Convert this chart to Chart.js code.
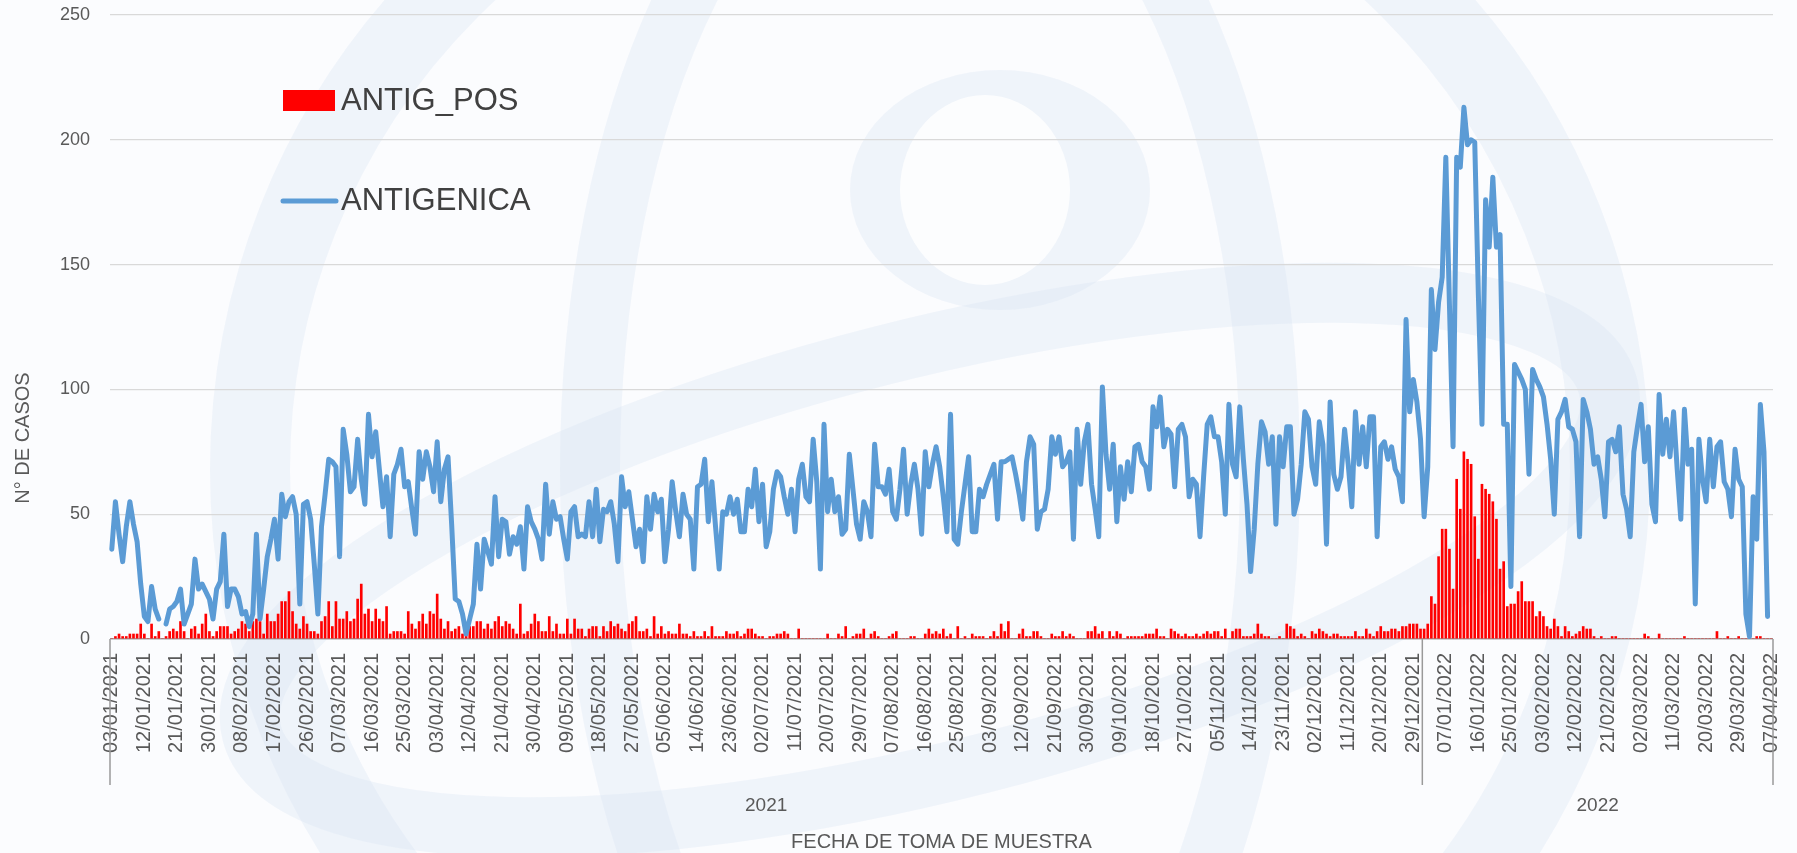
<!DOCTYPE html>
<html>
<head>
<meta charset="utf-8">
<script src="https://cdn.jsdelivr.net/npm/chart.js@4.4.1/dist/chart.umd.min.js"></script>
<style>
  html,body{margin:0;padding:0;background:#fff;}
  #wrap{width:1797px;height:853px;}
</style>
</head>
<body>
<div id="wrap"><canvas id="grafico" width="1797" height="853"></canvas></div>
<script>
// casos diarios, primer dia 03/01/2021, una etiqueta cada 9 dias
var fechaInicio = Date.UTC(2021, 0, 3)
var cadaTick = 9
var anios = ["2021", "2022"]
var yTicks = [0, 50, 100, 150, 200, 250]

// 03/01/2021 - 31/12/2021
var antigenica2021 = [
  36,55,42,31,45,55,46,39,22,9,
  7,21,12,8,null,6,12,13,15,20,
  6,10,14,32,20,22,19,16,8,20,
  23,42,13,20,20,17,10,11,5,10,
  42,8,20,33,40,48,32,58,49,55,
  57,50,14,54,55,48,30,10,45,58,
  72,71,69,33,84,74,59,61,80,64,
  54,90,73,83,68,53,65,41,66,70,
  76,61,63,52,42,75,64,75,69,59,
  79,55,68,73,46,16,15,10,2,8,
  14,38,20,40,35,30,57,33,48,47,
  34,41,38,45,28,53,47,44,40,32,
  62,42,55,48,49,40,32,51,53,41,
  42,41,55,41,60,39,52,51,55,46,
  31,65,53,59,48,37,44,31,57,44,
  58,51,56,31,44,63,51,41,58,50,
  48,28,61,62,72,47,63,45,28,51,
  50,57,50,56,43,43,60,53,68,47,
  62,37,43,60,67,65,57,50,60,43,
  64,70,57,55,80,63,28,86,51,64,
  51,57,42,44,74,60,46,40,55,51,
  41,78,61,61,58,68,51,48,60,76,
  50,62,70,60,42,75,61,70,77,69,
  57,43,90,40,38,51,62,73,43,43,
  60,57,62,66,70,48,71,71,72,73,
  66,58,48,71,81,78,44,51,52,60,
  81,74,81,69,71,75,40,84,62,79,
  86,62,52,41,101,74,60,78,47,69,
  56,71,59,77,78,71,69,60,93,85,
  97,77,84,82,61,84,86,81,57,64,
  62,41,65,86,89,81,81,71,50,94,
  70,65,93,72,54,27,44,70,87,83,
  70,81,46,81,69,85,85,50,56,70,
  91,88,69,62,87,78,38,95,66,60,
  65,84,70,53,91,70,85,69,89,89,
  41,77,79,72,77,68,65,55,128,91,
  104,95,80
]
// 01/01/2022 - 07/04/2022
var antigenica2022 = [
  49,69,140,116,135,145,193,
  134,77,193,189,213,198,200,199,138,86,
  176,157,185,157,162,86,86,21,110,107,
  104,100,66,108,104,101,97,86,72,50,
  88,91,96,85,84,79,41,96,91,84,
  70,73,64,49,79,80,75,85,58,52,
  41,75,85,94,71,85,54,47,98,74,
  88,73,91,68,48,92,70,76,14,80,
  64,55,80,61,77,79,63,60,49,76,
  64,61,10,1,57,40,94,75,9,null
]

var antigPos2021 = [
  0,1,2,1,1,2,2,2,6,2, 0,6,1,3,0,1,3,4,3,7, 3,0,4,5,2,6,10,3,1,3, 5,5,5,2,3,4,7,6,3,7, 8,
  7,2,10,7,7,10,15,15,19,11, 6,4,9,6,3,3,2,7,9,15, 5,15,8,8,11,7,8,16,22,10, 12,7,12,8,7,13,2,3,3,3, 2,11,6,4,7,
  10,6,11,10,18,8,4,7,3,4, 5,2,4,5,5,7,7,4,6,4, 7,9,5,7,6,4,2,14,2,3, 6,10,7,3,3,9,3,6,2,2, 8,2,
  8,4,4,1,4,5,5,1,5,3, 7,5,6,4,3,6,7,9,3,3, 4,1,9,2,5,2,3,2,2,6, 2,2,1,3,1,1,3,1,5,1, 1,1,3,2,
  2,3,1,2,4,4,2,1,1,0, 1,1,2,2,3,2,0,0,4,0, 0,0,0,0,0,0,2,0,0,2, 1,5,0,1,2,2,4,0,2,3, 1,0,0,1,
  2,3,0,0,0,1,1,0,0,2, 4,2,3,2,4,1,2,0,5,0, 1,0,2,1,1,1,0,1,3,1, 6,3,7,0,0,2,4,1,1,3, 3,1,0,0,
  2,1,1,3,1,2,1,0,0,0, 3,3,5,2,3,0,3,1,3,2, 0,1,1,1,1,1,2,2,2,4, 1,1,0,4,3,2,1,2,1,1, 2,1,2,3,
  2,3,3,1,4,0,3,4,4,1, 1,1,2,6,2,1,1,0,0,1, 0,6,5,4,1,2,1,0,3,2, 4,3,2,1,2,2,1,
  1,1,1,3,1,1,4,2,1,3, 5,3,3,4,4,3,5,5,6,6, 6,
  4
]
var antigPos2022 = [
  4,6,17,14,33,44,44,36,20,64, 52,75,72,70,49,32,62,60,58,55, 48,28,31,13,14,14,19,23,15,15,
  15,9,11,9,5,4,8,5,1,5, 3,1,2,3,5,4,4,1,0,1, 0,0,1,1,0,0,0,0,0,0,
  0,2,1,0,0,2,0,0,0,0, 0,0,1,0,0,0,0,0,0,0, 0,3,0,0,1,0,0,1,0,0,
  0,0,1,1,0,0,0
]

var colorLinea = '#5B9BD5'
var colorBarra = '#FF0000'
var colorTexto = '#595959'
var colorLeyenda = '#404040'
var fuente = "'Liberation Sans', Arial, sans-serif"

function crearFechas(n){
  var fechas = []
  for (var i = 0; i < n; i++) {
    var d = new Date(fechaInicio + i * 86400000)
    var dd = String(d.getUTCDate()).padStart(2, '0')
    var mm = String(d.getUTCMonth() + 1).padStart(2, '0')
    fechas.push(dd + '/' + mm + '/' + d.getUTCFullYear())
  }
  return fechas
}

var antigenica = antigenica2021.concat(antigenica2022)
var antigPos = antigPos2021.concat(antigPos2022)
var fechas = crearFechas(antigenica.length)
var grupos = [
  {nombre: anios[0], n: antigenica2021.length},
  {nombre: anios[1], n: antigenica2022.length}
]

// logo de fondo muy tenue
const fondoLogo = {
  id: 'fondoLogo',
  beforeDraw: (chart) => {
    const {ctx, width, height} = chart
    ctx.save()
    ctx.fillStyle = '#FBFCFE'
    ctx.fillRect(0, 0, width, height)
    var tono = 'rgba(215,227,243,0.32)'
    ctx.strokeStyle = tono
    ctx.lineWidth = 80
    ctx.beginPath(); ctx.arc(930, 470, 680, 0, Math.PI * 2); ctx.stroke()
    ctx.lineWidth = 60
    ctx.beginPath(); ctx.ellipse(930, 470, 340, 680, 0, 0, Math.PI * 2); ctx.stroke()
    ctx.beginPath(); ctx.ellipse(930, 560, 700, 210, -0.25, 0, Math.PI * 2); ctx.stroke()
    ctx.fillStyle = tono
    ctx.beginPath(); ctx.ellipse(1000, 190, 150, 120, 0, 0, Math.PI * 2); ctx.fill()
    ctx.fillStyle = 'rgba(255,255,255,0.8)'
    ctx.beginPath(); ctx.ellipse(985, 190, 85, 95, 0, 0, Math.PI * 2); ctx.fill()
    ctx.restore()
  }
}

// niveles de año, titulos de ejes y leyenda
const ejeAnios = {
  id: 'ejeAnios',
  afterDraw: (chart) => {
    const {ctx, chartArea} = chart
    const x = chart.scales.x
    ctx.save()
    // lineas separadoras
    var bordes = [chartArea.left]
    var acum = 0
    for (var g = 0; g < grupos.length; g++) {
      acum += grupos[g].n
      if (acum < antigenica.length) {
        bordes.push((x.getPixelForValue(acum - 1) + x.getPixelForValue(acum)) / 2)
      } else {
        bordes.push(chartArea.right)
      }
    }
    ctx.strokeStyle = '#9A9A9A'
    ctx.lineWidth = 1.5
    bordes.forEach(b => {
      ctx.beginPath()
      ctx.moveTo(b, chartArea.bottom)
      ctx.lineTo(b, chartArea.bottom + 146)
      ctx.stroke()
    })
    ctx.fillStyle = colorTexto
    ctx.font = '19px ' + fuente
    ctx.textAlign = 'center'
    ctx.textBaseline = 'middle'
    for (var g = 0; g < grupos.length; g++) {
      ctx.fillText(grupos[g].nombre, (bordes[g] + bordes[g + 1]) / 2, chartArea.bottom + 167)
    }
    // titulos
    ctx.font = '20px ' + fuente
    ctx.fillText('FECHA DE TOMA DE MUESTRA', (chartArea.left + chartArea.right) / 2, 842)
    ctx.save()
    ctx.translate(23, 438)
    ctx.rotate(-Math.PI / 2)
    ctx.fillText('N° DE CASOS', 0, 0)
    ctx.restore()
    // leyenda
    var lx = chartArea.left + 173
    var ly = chartArea.top + 86
    ctx.fillStyle = colorBarra
    ctx.fillRect(lx, ly - 11, 52, 21)
    ctx.strokeStyle = colorLinea
    ctx.lineWidth = 5
    ctx.lineCap = 'round'
    ctx.beginPath()
    ctx.moveTo(lx, ly + 100)
    ctx.lineTo(lx + 53, ly + 100)
    ctx.stroke()
    ctx.fillStyle = colorLeyenda
    ctx.font = '31px ' + fuente
    ctx.textAlign = 'left'
    ctx.fillText('ANTIG_POS', lx + 58, ly)
    ctx.fillText('ANTIGENICA', lx + 58, ly + 100)
    ctx.restore()
  }
}

var config = {
  type: 'bar',
  data: {
    labels: fechas,
    datasets: [{
      type: 'line',
      label: 'ANTIGENICA',
      data: antigenica,
      borderColor: colorLinea,
      backgroundColor: colorLinea,
      borderWidth: 5,
      pointRadius: 0,
      tension: 0,
      spanGaps: false,
      borderJoinStyle: 'round',
      borderCapStyle: 'round',
      order: 0
    }, {
      type: 'bar',
      label: 'ANTIG_POS',
      data: antigPos,
      backgroundColor: colorBarra,
      barThickness: 2,
      order: 1
    }]
  },
  options: {
    responsive: false,
    animation: false,
    layout: {padding: {top: 15, right: 24, left: 0, bottom: 0}},
    plugins: {
      legend: {display: false},
      tooltip: {enabled: false}
    },
    scales: {
      x: {
        offset: true,
        grid: {display: false, drawTicks: false},
        border: {display: false},
        ticks: {
          autoSkip: false,
          maxRotation: 90,
          minRotation: 90,
          padding: 14,
          color: colorTexto,
          font: {family: fuente, size: 20},
          callback: function(val, idx){
            return idx % cadaTick === 0 ? this.getLabelForValue(val) : ''
          }
        },
        afterFit: function(s){
          s.height = 214
          s.paddingLeft = 0
          s.paddingRight = 0
        }
      },
      y: {
        min: yTicks[0],
        max: yTicks[yTicks.length - 1],
        border: {display: false},
        grid: {
          drawTicks: false,
          color: (c) => c.tick && c.tick.value === 0 ? '#A0A0A0' : '#D9D9D9',
          lineWidth: (c) => c.tick && c.tick.value === 0 ? 1.6 : 1.2
        },
        ticks: {
          stepSize: yTicks[1] - yTicks[0],
          padding: 20,
          color: colorTexto,
          font: {family: fuente, size: 18}
        },
        afterFit: function(s){
          s.width = 110
          s.paddingTop = 0
          s.paddingBottom = 0
        }
      }
    }
  },
  plugins: [fondoLogo, ejeAnios]
}

var chart = new Chart(document.getElementById('grafico'), config)
</script>
</body>
</html>
